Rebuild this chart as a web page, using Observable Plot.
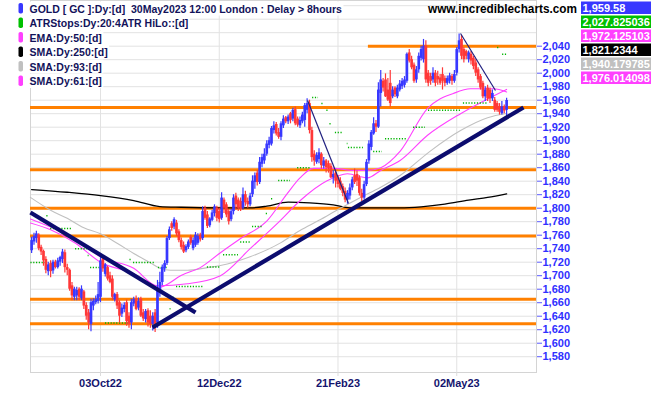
<!DOCTYPE html>
<html><head><meta charset="utf-8">
<script src="https://cdn.jsdelivr.net/npm/d3@7"></script>
<script src="https://cdn.jsdelivr.net/npm/@observablehq/plot@0.6"></script>
<style>body{margin:0;background:#fff}#chart{position:relative;width:651px;height:395px}</style>
</head><body><div id="chart"></div>
<script>
// ---- data (trading-day index 0 = 03Oct22) ----
const firstDay = -29;
const opens = [1737,1750,1755,1760,1742,1736,1724,1706,1718,1707,1720,1712,1720,1724,1734,1712,1708,1685,1668,1670,1680,1666,1676,1656,1645,1628,1655,1660,1662,
1668,1725,1702,1712,1700,1695,1664,1672,1660,1643,1650,1660,1640,1630,1658,1665,1652,1665,1645,1635,1648,1640,1628,1645,1630,1676,1690,1710,1718,1755,
1777,1772,1778,1765,1752,1745,1737,1742,1757,1740,1745,1748,1760,1755,1800,1790,1774,1782,1792,1800,1795,1785,1812,1805,1795,1783,1795,1818,1812,1810,
1800,1820,1810,1805,1820,1838,1852,1838,1865,1870,1880,1893,1895,1915,1924,1912,1905,1922,1934,1928,1940,1932,1946,1932,1922,1928,1930,1945,1955,1915,
1880,1868,1872,1880,1862,1870,1866,1862,1845,1852,1845,1840,1832,1825,1812,1818,1830,1848,1850,1845,1822,1815,1835,1870,1890,1910,1925,1920,1970,1988,
1990,1975,1985,1965,1978,1965,1975,1980,1982,1988,2030,2020,2012,1990,2005,2022,2020,2040,2000,1995,1990,2000,1995,1993,1998,1992,1985,1988,1995,1988,
2000,2035,2050,2035,2032,2020,2028,2022,2015,2005,1995,1985,1965,1978,1975,1962,1960,1955,1950,1940,1950,1945];
const highs = [1757,1763,1766,1762,1745,1738,1728,1720,1722,1723,1723,1726,1729,1739,1738,1717,1710,1690,1683,1683,1682,1685,1678,1660,1650,1665,1666,1670,1690,
1727,1728,1718,1714,1705,1700,1674,1675,1663,1658,1660,1664,1645,1665,1668,1670,1667,1668,1650,1650,1651,1648,1645,1650,1693,1705,1716,1722,1758,1772,
1780,1786,1782,1768,1756,1750,1746,1753,1760,1756,1764,1762,1763,1802,1803,1795,1786,1797,1805,1803,1800,1823,1815,1808,1798,1798,1820,1822,1815,1815,
1830,1825,1815,1822,1848,1852,1856,1875,1880,1888,1900,1905,1921,1928,1927,1918,1928,1937,1936,1938,1942,1948,1950,1935,1935,1942,1955,1962,1960,1920,
1885,1882,1888,1882,1875,1872,1870,1866,1856,1856,1848,1845,1836,1830,1826,1836,1846,1858,1855,1848,1828,1840,1872,1900,1915,1934,1930,1986,2004,1992,
1999,1992,2004,1980,1980,1982,1989,1992,1995,2030,2035,2025,2015,2010,2030,2040,2050,2048,2004,2000,2008,2004,2003,1998,2008,1996,1996,2000,1998,2004,
2038,2058,2056,2038,2034,2033,2032,2025,2020,2008,1998,1988,1980,1982,1978,1975,1964,1958,1955,1958,1953,1963];
const lows = [1733,1745,1748,1737,1730,1714,1703,1700,1697,1702,1710,1710,1714,1718,1704,1700,1677,1663,1663,1663,1663,1663,1650,1634,1620,1617,1648,1657,1658,
1660,1705,1698,1692,1688,1663,1661,1650,1630,1638,1645,1625,1622,1620,1654,1648,1648,1638,1632,1630,1624,1622,1618,1616,1622,1668,1685,1705,1715,1752,
1766,1768,1758,1749,1738,1733,1734,1739,1745,1737,1742,1745,1750,1752,1782,1770,1771,1780,1787,1780,1778,1782,1792,1786,1775,1780,1790,1797,1795,1795,
1797,1803,1800,1802,1816,1828,1833,1835,1860,1865,1877,1888,1892,1910,1907,1902,1900,1918,1925,1924,1925,1928,1922,1920,1918,1925,1920,1940,1910,1868,
1862,1865,1866,1858,1858,1852,1852,1844,1836,1830,1830,1826,1817,1808,1806,1812,1826,1835,1832,1818,1810,1812,1832,1865,1885,1908,1912,1918,1950,1972,
1964,1958,1950,1962,1964,1962,1972,1976,1978,1985,2015,2005,1985,1985,2000,2018,2015,1985,1980,1982,1985,1980,1982,1982,1975,1980,1982,1984,1982,1985,
1996,2030,2020,2015,2020,2015,2012,2005,1995,1985,1975,1962,1958,1958,1955,1958,1942,1942,1938,1938,1940,1934];
const closes = [1752,1758,1762,1740,1735,1722,1708,1716,1706,1720,1712,1722,1727,1735,1712,1708,1680,1670,1680,1678,1668,1680,1655,1640,1630,1660,1662,1665,1672,
1722,1710,1716,1695,1690,1668,1672,1655,1640,1652,1656,1632,1628,1660,1665,1650,1662,1640,1636,1647,1630,1628,1640,1628,1680,1690,1712,1718,1755,1768,
1770,1783,1762,1752,1742,1735,1743,1750,1748,1752,1760,1758,1753,1795,1785,1773,1784,1793,1802,1785,1783,1815,1800,1790,1780,1795,1815,1805,1800,1798,
1820,1808,1805,1818,1840,1848,1838,1868,1875,1880,1895,1900,1918,1922,1910,1905,1925,1932,1928,1935,1930,1945,1925,1923,1930,1938,1952,1955,1915,1875,
1870,1878,1882,1863,1870,1860,1858,1845,1850,1840,1835,1828,1822,1812,1822,1830,1842,1838,1840,1822,1815,1835,1868,1895,1912,1925,1920,1975,1990,1978,
1965,1960,1955,1975,1968,1978,1984,1988,1990,2028,2018,2008,1988,2005,2025,2035,2040,1990,1985,1988,2000,1985,1990,1985,1988,1985,1992,1996,1988,1998,
2035,2048,2025,2020,2025,2030,2018,2010,2000,1990,1978,1965,1975,1962,1962,1970,1945,1945,1942,1950,1944,1959.58];

// moving averages (day index, price)
const sma250Days = [-29,-14,0,14,25,34,50,63,70,79,88,98,105,126,135,145,155,163,171];
const sma250Vals = [1827.6,1823.6,1818.7,1811.3,1802.4,1801.4,1800.5,1800.5,1803,1809,1808,1805,1800.5,1800.5,1802,1806,1812,1816,1821.23];
const sma93Days = [-29.5,-21,-14,-7,0,7,14,21,25,29.5,36.6,45,50.5,63,76,84,92,101,109.5,118,126,139,151.6,163,171];
const sma93Vals = [1816,1797,1785,1771,1762,1748,1733,1719,1711,1708,1708,1712,1715,1728,1749,1767,1782,1800,1816,1831,1848,1885,1915,1934,1940.18];
const ema50Days = [-29.5,-21,-10.5,0,14,24,28,33.7,42,50.5,59,70.3,78.7,84,89.7,98,106.5,112.4,118,126.3,137.7,148.6,155.8,165.5,171];
const ema50Vals = [1778,1768,1748,1720,1703,1682,1687,1700,1712,1734,1755,1782,1822,1845,1859,1859,1856,1856,1860,1885,1948,1970,1977,1977,1972.13];
const sma61Days = [-29.5,-21,-10.5,0,14,24,36.6,50.5,63,75.8,84,95.6,104,112.4,118,126.3,137.7,151.6,164.2,171];
const sma61Vals = [1784,1772,1755,1728,1711,1685,1688,1700,1740,1782,1811,1841,1851,1845,1856,1871,1908,1940,1964,1976.01];

// ATR HiLo trailing stop steps
const atrFrom  = [-29.3,-22.6,-21,-10.5,-5.2,-4.2,2.1,12.4,13.9,24.4,29.3,30.5,32,45,51.8,59,64,69.8,72,75,83,89.3,93.2,95.3,96.6,98.9,103.9,104.4,115,120,131.8,138.1,152.8,167.2,169.3];
const atrTo    = [-23.2,-22,-11.8,-5.5,-4.8,0,11.8,12.9,23.2,28.2,29.7,31,43.4,50.5,58.1,63.2,68.2,70.8,72.8,80,88.4,91.8,93.8,95.9,97.1,102.3,104.2,110.7,118.7,129.3,136.8,151.6,162.9,168.4,171.2];
const atrLevel = [1719.6,1789,1770,1740,1730,1712,1630,1724,1719.6,1712,1651,1668,1684,1713,1731,1750,1773,1792,1814,1841,1860,1964,1955,1945,1925,1912,1896,1890,1884,1903,1920,1945,1956,2038,2028];

// horizontal support / resistance
const supportLevels = [1949,1857,1800,1759,1665,1629];
const resistanceLevel = 2040, resistanceFromDay = 112.8;

// drawn trend lines (day, price)
const thickTrend = [[-29.5,1793.6,40,1645.5],[21.9,1623.3,178.1,1949.2]];
const thinTrend  = [[87.2,1959.6,104.4,1807],[151.6,2058.8,166.3,1974.4]];

// axis ticks
const tickDays = [0,50,100,150];
const tickLabels = ["03Oct22","12Dec22","21Feb23","02May23"];
const priceTicks = [1580,1600,1620,1640,1660,1680,1700,1720,1740,1760,1780,1800,1820,1840,1860,1880,1900,1920,1940,1960,1980,2000,2020,2040];
const gridPrices = [1580,1600,1620,1640,1660,1680,1700,1720,1740,1760,1780,1800,1820,1840,1860,1880,1900,1920,1940,1960,1980,2000,2020,2040,2060,2080,2100];

// texts
const legendLabels = ["GOLD [ GC ]:Dy:[d]  30May2023 12:00 London : Delay > 8hours","ATRStops:Dy:20:4ATR HiLo::[d]","EMA:Dy:50:[d]","SMA:Dy:250:[d]","SMA:Dy:93:[d]","SMA:Dy:61:[d]"];
const valueLabels = ["1,959.58","2,027.825036","1,972.125103","1,821.2344","1,940.179785","1,976.014098"];

// ---- styles ----
const BLUE="#3838ff", RED="#ff3838", GREEN="#00c000", MAG="#ff40ff", GRAY="#c0c0c0", BLACK="#000000";
const seriesColors=[BLUE,GREEN,MAG,BLACK,GRAY,MAG];

const bars = opens.map((o,k)=>({day:firstDay+k,open:o,high:highs[k],low:lows[k],close:closes[k]}));
const ser = (days,vals)=>days.map((d,k)=>({day:d,v:vals[k]}));
const atrSegs = atrFrom.map((f,k)=>({from:f,to:atrTo[k],level:atrLevel[k]}));
const seg = a=>a.map(([a1,b1,a2,b2])=>({x1:a1,y1:b1,x2:a2,y2:b2}));

const chart = Plot.plot({
  width:651, height:395, marginLeft:30, marginRight:115, marginTop:0, marginBottom:23,
  x:{type:"linear", domain:[-29.47,183.58]},
  y:{domain:[1556.6,2107.7]},
  style:{fontFamily:"'Liberation Sans', Arial, sans-serif", fontSize:"11px", background:"#fff", overflow:"visible"},
  marks:[
    Plot.gridY(gridPrices,{stroke:"#e2e2e2",strokeOpacity:1}),
    Plot.gridX(tickDays,{stroke:"#e2e2e2",strokeOpacity:1}),
    Plot.frame({stroke:"#d4d4d4"}),
    Plot.ruleY(supportLevels,{stroke:"#ff8000",strokeWidth:3}),
    Plot.ruleY([{level:resistanceLevel,from:resistanceFromDay,to:183.58}],{y:"level",x1:"from",x2:"to",stroke:"#ff8000",strokeWidth:3}),
    Plot.line(ser(sma250Days,sma250Vals),{x:"day",y:"v",stroke:BLACK,strokeWidth:1.3,curve:"monotone-x"}),
    Plot.line(ser(sma93Days,sma93Vals),{x:"day",y:"v",stroke:GRAY,strokeWidth:1.1,curve:"monotone-x"}),
    Plot.line(ser(sma61Days,sma61Vals),{x:"day",y:"v",stroke:MAG,strokeWidth:1.1,curve:"monotone-x"}),
    Plot.line(ser(ema50Days,ema50Vals),{x:"day",y:"v",stroke:MAG,strokeWidth:1.1,curve:"monotone-x"}),
    Plot.ruleY(atrSegs,{y:"level",x1:"from",x2:"to",stroke:"#00b400",strokeWidth:1.5,strokeDasharray:"1.2,1.6"}),
    Plot.ruleX(bars,{x:"day",y1:"low",y2:"high",stroke:d=>d.close>=d.open?BLUE:RED,strokeWidth:1.2}),
    Plot.ruleX(bars,{x:"day",y1:"open",y2:"close",stroke:d=>d.close>=d.open?BLUE:RED,strokeWidth:2.7}),
    Plot.link(seg(thickTrend),{x1:"x1",y1:"y1",x2:"x2",y2:"y2",stroke:"#0c0c6e",strokeWidth:4.2}),
    Plot.link(seg(thinTrend),{x1:"x1",y1:"y1",x2:"x2",y2:"y2",stroke:"#202080",strokeWidth:1.2}),
    Plot.axisY(priceTicks,{anchor:"right",tickSize:5,tickPadding:1,tickFormat:d3.format(","),stroke:"#5a5aff",fill:"#3030ff",fontWeight:"bold",fontSize:11}),
    Plot.axisX(tickDays,{anchor:"bottom",tickSize:4,tickPadding:3,tickFormat:d=>tickLabels[tickDays.indexOf(d)],stroke:"#dcdcdc",fill:"#14146e",fontWeight:"bold",fontSize:11})
  ]
});
document.getElementById("chart").append(chart);

// overlays: legend, site name, latest values
const svg = d3.select(chart);
const g = svg.append("g").attr("font-family","'Liberation Sans', Arial, sans-serif").attr("font-weight","bold").attr("text-anchor","start");
legendLabels.forEach((t,k)=>{
  const y0 = 1.5 + 14.5*k;
  const bg = g.append("rect").attr("x",28).attr("y",y0).attr("height",14).attr("fill","#fff");
  g.append("rect").attr("x",18.5).attr("y",y0+1.5).attr("width",4.5).attr("height",10.5).attr("rx",1.8).attr("fill",seriesColors[k]);
  const tx = g.append("text").attr("x",29.5).attr("y",y0+11).attr("font-size",10.5).attr("fill","#12125a").style("white-space","pre").text(t);
  bg.attr("width",tx.node().getComputedTextLength()+3);
});
g.append("text").attr("x",428).attr("y",12.5).attr("font-size",12.5).attr("fill","#000")
  .attr("textLength",149).attr("lengthAdjust","spacingAndGlyphs").text("www.incrediblecharts.com");
valueLabels.forEach((t,k)=>{
  const y0 = 1.5 + 14*k;
  g.append("rect").attr("x",581).attr("y",y0).attr("width",70).attr("height",12.5).attr("fill",seriesColors[k]);
  g.append("text").attr("x",582.5).attr("y",y0+10.5).attr("font-size",11).attr("fill","#fff").text(t);
});
</script></body></html>
